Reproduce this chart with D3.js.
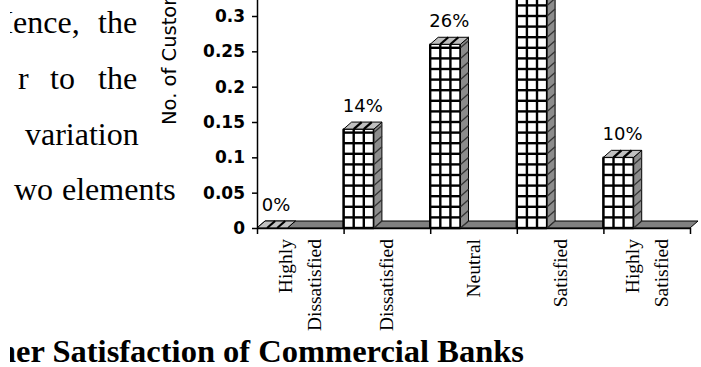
<!DOCTYPE html>
<html>
<head>
<meta charset="utf-8">
<script src="https://cdn.jsdelivr.net/npm/d3@7"></script>
<style>
  html, body { margin: 0; padding: 0; background: #fff; overflow: hidden; }
  svg { display: block; }
</style>
</head>
<body>
<svg id="chart" width="701" height="367"></svg>
<script>
// ---- data ----
const categories = [["Highly", "Dissatisfied"], ["Dissatisfied"], ["Neutral"], ["Satisfied"], ["Highly", "Satisfied"]];
const shares = [0, 0.14, 0.26, 0.50, 0.10];
const shareLabels = ["0%", "14%", "26%", "50%", "10%"];
const yTickValues = [0, 0.05, 0.1, 0.15, 0.2, 0.25, 0.3, 0.35, 0.4, 0.45, 0.5, 0.55];
const yTitle = "No. of Customers";
const caption = "Customer Satisfaction of Commercial Banks";
// running body text beside the figure: [word, x] per line
const bodyWords = [
  [["Hence,", -10], ["the", 98]],
  [["r", 18], ["to", 50], ["the", 98]],
  [["variation", 25]],
  [["wo", 14], ["elements", 62]]
];
const bodyBaselines = [33, 89, 145, 200];

// ---- layout ----
const svg = d3.select("#chart");
const W = 701, H = 367;
const plotLeft = 257, plotRight = 690, baseY = 228;
const depthX = 8, depthY = 7;       // 3-D offset of the column backs
const cellH = 10.6;                 // grid pattern row height

svg.append("rect").attr("width", W).attr("height", H).attr("fill", "#fff");

// the page is cut on its left edge
svg.append("defs").append("clipPath").attr("id", "pageCut")
  .append("rect").attr("x", 10).attr("y", 0).attr("width", W).attr("height", H);

// body text
const body = svg.append("g")
  .attr("clip-path", "url(#pageCut)")
  .attr("font-family", "'Liberation Serif', 'Times New Roman', serif")
  .attr("font-size", 32).attr("fill", "#000");
bodyWords.forEach((line, i) => {
  line.forEach(([word, x]) => {
    body.append("text").attr("x", x).attr("y", bodyBaselines[i]).text(word);
  });
});

// caption
svg.append("text")
  .attr("clip-path", "url(#pageCut)")
  .attr("x", 524).attr("y", 362)
  .attr("text-anchor", "end")
  .attr("font-family", "'Liberation Serif', 'Times New Roman', serif")
  .attr("font-weight", "bold").attr("font-size", 32.5)
  .text(caption);

// scales
const x = d3.scaleBand().domain(d3.range(categories.length)).range([plotLeft, plotRight]).padding(0);
const xEdge = d3.scaleLinear().domain([0, categories.length]).range([plotLeft, plotRight]);
const y = d3.scaleLinear().domain([0, 0.3]).range([baseY, 16]);
const barW = x.bandwidth() * 0.35;

// floor
const floorPts = [[plotLeft, baseY], [plotRight, baseY], [plotRight + depthX, baseY - depthY], [plotLeft + depthX, baseY - depthY]];
svg.append("polygon")
  .attr("points", floorPts.map(p => p.join(",")).join(" "))
  .attr("fill", "#808080").attr("stroke", "#000").attr("stroke-width", 1);

// columns
const bars = svg.append("g");
shares.forEach((v, i) => {
  const g = bars.append("g");
  const x0 = x(i), x1 = x0 + barW, yT = y(v), yB = y(0);
  const cellW = barW / 3;

  // front face
  g.append("rect").attr("x", x0).attr("y", yT).attr("width", barW).attr("height", yB - yT)
    .attr("fill", "#fff");
  for (let k = 0; k <= 3; k++) {
    g.append("line").attr("x1", x0 + k * cellW).attr("x2", x0 + k * cellW)
      .attr("y1", yT).attr("y2", yB).attr("stroke", "#000").attr("stroke-width", 2.4);
  }
  const rows = [];
  for (let yy = yB; yy > yT + 2; yy -= cellH) rows.push(yy);
  rows.forEach(yy => {
    g.append("line").attr("x1", x0).attr("x2", x1).attr("y1", yy).attr("y2", yy)
      .attr("stroke", "#000").attr("stroke-width", 2.4);
  });
  g.append("rect").attr("x", x0).attr("y", yT).attr("width", barW).attr("height", yB - yT)
    .attr("fill", "none").attr("stroke", "#000").attr("stroke-width", 1.5);

  // side face
  g.append("polygon")
    .attr("points", [[x1, yB], [x1 + depthX, yB - depthY], [x1 + depthX, yT - depthY], [x1, yT]].map(p => p.join(",")).join(" "))
    .attr("fill", "#8c8c8c").attr("stroke", "#000").attr("stroke-width", 1);
  rows.forEach(yy => {
    g.append("line").attr("x1", x1).attr("x2", x1 + depthX).attr("y1", yy).attr("y2", yy - depthY)
      .attr("stroke", "#333").attr("stroke-width", 1.3);
  });

  // top face
  g.append("polygon")
    .attr("points", [[x0, yT], [x0 + depthX, yT - depthY], [x1 + depthX, yT - depthY], [x1, yT]].map(p => p.join(",")).join(" "))
    .attr("fill", "#c0c0c0").attr("stroke", "#000").attr("stroke-width", 1);
  for (let k = 1; k < 3; k++) {
    g.append("line").attr("x1", x0 + k * cellW).attr("x2", x0 + k * cellW + depthX)
      .attr("y1", yT).attr("y2", yT - depthY).attr("stroke", "#000").attr("stroke-width", 2.2);
  }

  // value label
  svg.append("text")
    .attr("x", x0 + (barW + depthX) / 2).attr("y", yT - 17)
    .attr("text-anchor", "middle")
    .attr("font-family", "'DejaVu Sans', sans-serif").attr("font-size", 18)
    .text(shareLabels[i]);
});

// y axis
const yAxis = svg.append("g").attr("transform", `translate(${plotLeft},0)`)
  .call(d3.axisLeft(y.copy().domain([0, 0.6]).range([baseY, baseY - 0.6 * (baseY - 16) / 0.3]))
    .tickValues(yTickValues).tickSize(5).tickSizeOuter(0).tickPadding(7)
    .tickFormat(d => String(+d.toFixed(2))));
yAxis.select(".domain").attr("stroke", "#000").attr("stroke-width", 1.5);
yAxis.selectAll(".tick line").attr("stroke", "#000").attr("stroke-width", 1.5);
yAxis.selectAll(".tick text")
  .attr("font-family", "'DejaVu Sans', sans-serif").attr("font-size", 17)
  .attr("font-weight", "bold").attr("fill", "#000");

// x axis (category boundaries)
const xAxis = svg.append("g").attr("transform", `translate(0,${baseY})`)
  .call(d3.axisBottom(xEdge).tickValues(d3.range(categories.length + 1)).tickSize(6).tickSizeOuter(0).tickFormat(""));
xAxis.select(".domain").attr("stroke", "#000").attr("stroke-width", 1.5);
xAxis.selectAll(".tick line").attr("stroke", "#000").attr("stroke-width", 1.5);

// category labels, rotated
const lineStep = 29;
categories.forEach((lines, i) => {
  const cx = x(i) + x.bandwidth() / 2;
  lines.forEach((txt, k) => {
    const bx = cx + 6.5 + (k - (lines.length - 1) / 2) * lineStep;
    svg.append("text")
      .attr("transform", `translate(${bx},239) rotate(-90)`)
      .attr("text-anchor", "end")
      .attr("font-family", "'Liberation Serif', 'Times New Roman', serif")
      .attr("font-size", 19.5)
      .text(txt);
  });
});

// y axis title
svg.append("text")
  .attr("transform", "translate(176,125) rotate(-90)")
  .attr("text-anchor", "start")
  .attr("font-family", "'DejaVu Sans', sans-serif").attr("font-size", 19.5)
  .text(yTitle);
</script>
</body>
</html>
